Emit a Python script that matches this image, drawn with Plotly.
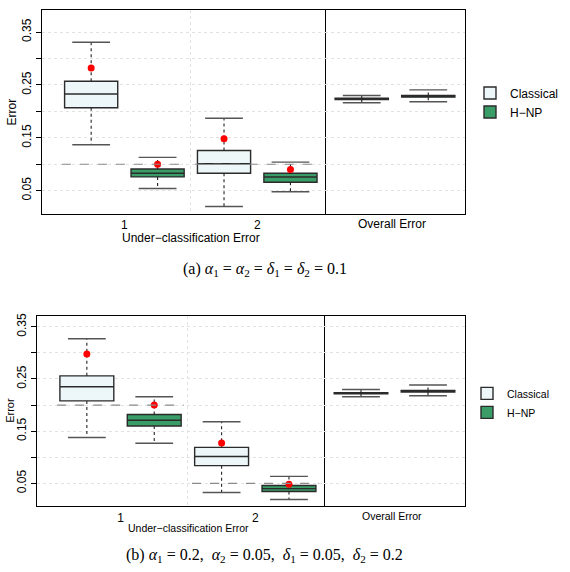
import plotly.graph_objects as go

W, H = 570, 572

# ---------------- data ----------------
categories = [1, 2]
category_labels = ["1", "2"]
method_names = ["Classical", "H−NP"]
y_tick_vals = [0.05, 0.10, 0.15, 0.20, 0.25, 0.30, 0.35]
y_tick_text = ["0.05", "", "0.15", "", "0.25", "", "0.35"]

# Panel (a): under-classification errors per class
a_cls_lower = [0.137, 0.020]
a_cls_q1 = [0.207, 0.083]
a_cls_med = [0.233, 0.101]
a_cls_q3 = [0.257, 0.126]
a_cls_upper = [0.331, 0.187]
a_cls_mean = [0.282, 0.148]

a_hnp_lower = [0.054, 0.048]
a_hnp_q1 = [0.076, 0.066]
a_hnp_med = [0.083, 0.0757]
a_hnp_q3 = [0.091, 0.083]
a_hnp_upper = [0.113, 0.104]
a_hnp_mean = [0.100, 0.090]

a_alpha = [0.1, 0.1]

# Panel (a): overall error  [Classical, H-NP]
a_ov_lower = [0.2163, 0.2182]
a_ov_q1 = [0.2226, 0.2270]
a_ov_med = [0.2238, 0.2285]
a_ov_q3 = [0.2250, 0.2300]
a_ov_upper = [0.2300, 0.2408]

# Panel (b): under-classification errors per class
b_cls_lower = [0.138, 0.0325]
b_cls_q1 = [0.208, 0.084]
b_cls_med = [0.235, 0.1015]
b_cls_q3 = [0.256, 0.119]
b_cls_upper = [0.327, 0.168]
b_cls_mean = [0.298, 0.1276]

b_hnp_lower = [0.127, 0.019]
b_hnp_q1 = [0.160, 0.0344]
b_hnp_med = [0.171, 0.040]
b_hnp_q3 = [0.182, 0.0458]
b_hnp_upper = [0.216, 0.0635]
b_hnp_mean = [0.200, 0.0483]

b_alpha = [0.2, 0.05]

# Panel (b): overall error  [Classical, H-NP]
b_ov_lower = [0.2160, 0.2180]
b_ov_q1 = [0.2214, 0.2250]
b_ov_med = [0.2226, 0.2264]
b_ov_q3 = [0.2238, 0.2278]
b_ov_upper = [0.2300, 0.2384]

caption_a = "(a) <i>α</i><sub>1</sub> = <i>α</i><sub>2</sub> = <i>δ</i><sub>1</sub> = <i>δ</i><sub>2</sub> = 0.1"
caption_b = ("(b) <i>α</i><sub>1</sub> = 0.2,  <i>α</i><sub>2</sub> = 0.05,  "
             "<i>δ</i><sub>1</sub> = 0.05,  <i>δ</i><sub>2</sub> = 0.2")

# ---------------- style ----------------
CLS_FILL = "#EDF6F8"
HNP_FILL = "#3A9D68"
BORDER = "#2B2B2B"
CAP = "#555555"
WHISK = "#222222"
GRID = "#E2E2E2"
THRESH = "#8A8A8A"
MEAN = "#FF0000"
FONT = "Liberation Sans, Arial, sans-serif"
SERIF = "Liberation Serif, Times New Roman, serif"
OFFSET = 0.25
BOXW = 0.4


def px_x(v):
    return v / W


def px_y(v):
    return 1 - v / H


fig = go.Figure()


def add_boxes(xa, ya, pos, lower, q1, med, q3, upper, fill, name, legend, showlegend, mean=None):
    fig.add_trace(go.Box(
        x=pos, q1=q1, median=med, q3=q3, lowerfence=q1, upperfence=q3,
        width=BOXW, whiskerwidth=0, fillcolor=fill,
        line=dict(color=BORDER, width=1.4), name=name,
        legend=legend, showlegend=showlegend, legendgroup=name + legend,
        xaxis=xa, yaxis=ya, hoverinfo="skip", boxpoints=False,
    ))
    wx, wy = [], []
    for p, lo, a, b, hi in zip(pos, lower, q1, q3, upper):
        wx += [p, p, None, p, p, None]
        wy += [b, hi, None, a, lo, None]
    fig.add_trace(go.Scatter(
        x=wx, y=wy, mode="lines", line=dict(color=WHISK, width=1.1, dash="dot"),
        xaxis=xa, yaxis=ya, showlegend=False, hoverinfo="skip",
    ))
    fig.add_trace(go.Scatter(
        x=list(pos) + list(pos), y=list(upper) + list(lower), mode="markers",
        marker=dict(symbol="line-ew", size=27, line=dict(color=CAP, width=1.4)),
        xaxis=xa, yaxis=ya, showlegend=False, hoverinfo="skip",
    ))
    if mean is not None:
        fig.add_trace(go.Scatter(
            x=pos, y=mean, mode="markers",
            marker=dict(color=MEAN, size=7, symbol="circle"),
            xaxis=xa, yaxis=ya, showlegend=False, hoverinfo="skip",
        ))


def add_thresholds(xa, ya, alphas):
    tx, ty = [], []
    for c, a in zip(categories, alphas):
        tx += [c - 0.47, c + 0.47, None]
        ty += [a, a, None]
    fig.add_trace(go.Scatter(
        x=tx, y=ty, mode="lines", line=dict(color=THRESH, width=1.1, dash="dash"),
        xaxis=xa, yaxis=ya, showlegend=False, hoverinfo="skip",
    ))


cls_pos = [c - OFFSET for c in categories]
hnp_pos = [c + OFFSET for c in categories]
ov_pos = [1 - OFFSET, 1 + OFFSET]

# Panel (a)
add_boxes("x", "y", cls_pos, a_cls_lower, a_cls_q1, a_cls_med, a_cls_q3, a_cls_upper,
          CLS_FILL, method_names[0], "legend", True, a_cls_mean)
add_boxes("x", "y", hnp_pos, a_hnp_lower, a_hnp_q1, a_hnp_med, a_hnp_q3, a_hnp_upper,
          HNP_FILL, method_names[1], "legend", True, a_hnp_mean)
add_thresholds("x", "y", a_alpha)
for i, fill in enumerate([CLS_FILL, HNP_FILL]):
    add_boxes("x2", "y2", [ov_pos[i]], [a_ov_lower[i]], [a_ov_q1[i]], [a_ov_med[i]],
              [a_ov_q3[i]], [a_ov_upper[i]], fill, method_names[i], "legend", False)

# Panel (b)
add_boxes("x3", "y3", cls_pos, b_cls_lower, b_cls_q1, b_cls_med, b_cls_q3, b_cls_upper,
          CLS_FILL, method_names[0], "legend2", True, b_cls_mean)
add_boxes("x3", "y3", hnp_pos, b_hnp_lower, b_hnp_q1, b_hnp_med, b_hnp_q3, b_hnp_upper,
          HNP_FILL, method_names[1], "legend2", True, b_hnp_mean)
add_thresholds("x3", "y3", b_alpha)
for i, fill in enumerate([CLS_FILL, HNP_FILL]):
    add_boxes("x4", "y4", [ov_pos[i]], [b_ov_lower[i]], [b_ov_q1[i]], [b_ov_med[i]],
              [b_ov_q3[i]], [b_ov_upper[i]], fill, method_names[i], "legend2", False)


def left_x(domain, anchor):
    return dict(domain=domain, anchor=anchor, range=[0.38, 2.51],
                tickvals=categories, ticktext=category_labels, ticks="",
                showgrid=False, zeroline=False, showline=True, mirror=True,
                linecolor="#000", linewidth=1, tickfont=dict(size=12, color="#000"),
                minor=dict(tickvals=[1.5], showgrid=True, gridcolor=GRID,
                           griddash="dot", gridwidth=1, ticks=""))


def right_x(domain, anchor):
    return dict(domain=domain, anchor=anchor, range=[0.474, 1.526],
                showticklabels=False, ticks="", showgrid=False, zeroline=False,
                showline=True, mirror=True, linecolor="#000", linewidth=1)


def left_y(domain, anchor, rng):
    return dict(domain=domain, anchor=anchor, range=rng, tickvals=y_tick_vals,
                ticktext=y_tick_text, ticks="outside", ticklen=5, tickcolor="#000",
                tickangle=-90, tickfont=dict(size=12, color="#000"),
                showgrid=True, gridcolor=GRID, griddash="dot", gridwidth=1,
                zeroline=False, showline=True, mirror=True, linecolor="#000", linewidth=1)


def right_y(domain, anchor, rng):
    # only the outer (right) frame edge; the divider comes from the left panel
    return dict(domain=domain, anchor=anchor, range=rng, tickvals=y_tick_vals,
                side="right", showticklabels=False, ticks="", showgrid=True,
                gridcolor=GRID, griddash="dot", gridwidth=1, zeroline=False,
                showline=True, mirror=False, linecolor="#000", linewidth=1)


a_ydom = [px_y(212), px_y(7)]
b_ydom = [px_y(506), px_y(315)]
a_rng = [0.006, 0.392]
b_rng = [0.006, 0.370]

annotations = [
    dict(text="Error", x=px_x(12), y=px_y(110), textangle=-90, font=dict(size=12)),
    dict(text="Under−classification Error", x=px_x(191), y=px_y(236), font=dict(size=12)),
    dict(text="Overall Error", x=px_x(392), y=px_y(222), font=dict(size=12)),
    dict(text="Error", x=px_x(10), y=px_y(410), textangle=-90, font=dict(size=11)),
    dict(text="Under−classification Error", x=px_x(188), y=px_y(528), font=dict(size=10.5)),
    dict(text="Overall Error", x=px_x(392), y=px_y(516), font=dict(size=10.5)),
    dict(text=caption_a, x=px_x(265), y=px_y(268), font=dict(size=16, family=SERIF)),
    dict(text=caption_b, x=px_x(264), y=px_y(555), font=dict(size=16, family=SERIF)),
]
for a in annotations:
    a.update(xref="paper", yref="paper", showarrow=False, xanchor="center", yanchor="middle")
    a["font"].setdefault("color", "#000")

fig.update_layout(
    width=W, height=H, margin=dict(l=0, r=0, t=0, b=0),
    paper_bgcolor="white", plot_bgcolor="white",
    font=dict(family=FONT, color="#000"),
    xaxis=left_x([px_x(42), px_x(325)], "y"),
    xaxis2=right_x([px_x(325), px_x(465)], "y2"),
    yaxis=left_y(a_ydom, "x", a_rng),
    yaxis2=right_y(a_ydom, "x2", a_rng),
    xaxis3=left_x([px_x(37), px_x(324)], "y3"),
    xaxis4=right_x([px_x(324), px_x(465)], "y4"),
    yaxis3=left_y(b_ydom, "x3", b_rng),
    yaxis4=right_y(b_ydom, "x4", b_rng),
    legend=dict(x=px_x(470), y=px_y(100), xanchor="left", yanchor="middle",
                font=dict(size=12), bgcolor="rgba(0,0,0,0)", tracegroupgap=0),
    legend2=dict(x=px_x(467), y=px_y(402), xanchor="left", yanchor="middle",
                 font=dict(size=10.5), bgcolor="rgba(0,0,0,0)", tracegroupgap=0),
    annotations=annotations,
    boxmode="overlay",
    showlegend=True,
)

fig.write_html("out.html")
